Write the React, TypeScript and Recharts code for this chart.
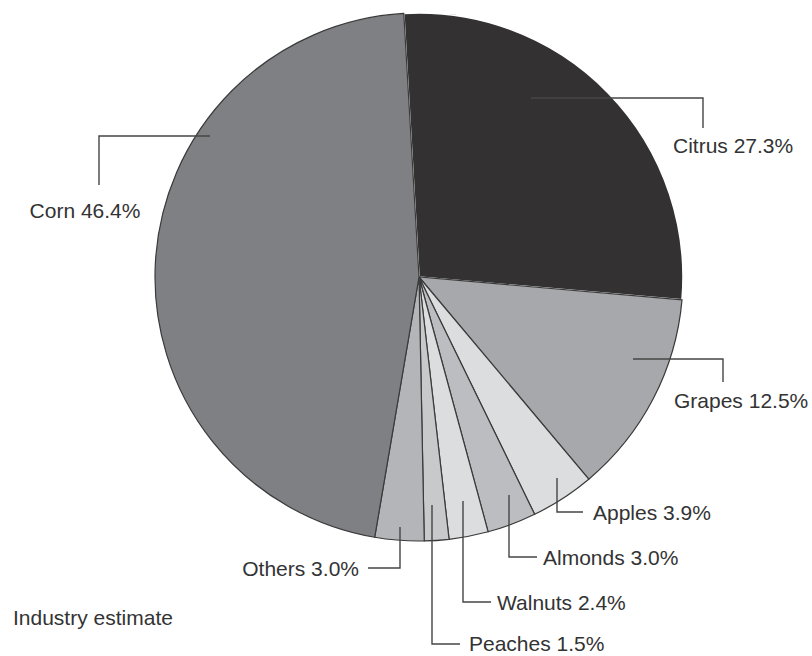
import { Cell, Pie, PieChart } from 'recharts'

const crops = ['Citrus', 'Grapes', 'Apples', 'Almonds', 'Walnuts', 'Peaches', 'Others', 'Corn']
const shares = [27.3, 12.5, 3.9, 3.0, 2.4, 1.5, 3.0, 46.4]
const fills = ['#333132', '#a7a8ab', '#dcdddf', '#bcbdc0', '#dcdddf', '#c8c9cb', '#b4b5b8', '#7f8083']

const slices = crops.map((name, i) => ({ name, value: shares[i] }))

// leader elbows, as offsets from the pie centre
const leaders: { pts: [number, number][]; tx: number; ty: number; anchor: 'start' | 'middle' | 'end' }[] = [
  { pts: [[112, -179], [284, -179], [284, -149]], tx: 254, ty: -132, anchor: 'start' },
  { pts: [[214, 82], [304, 82], [304, 105]], tx: 255, ty: 123, anchor: 'start' },
  { pts: [[138, 201], [138, 235], [164, 235]], tx: 174, ty: 235, anchor: 'start' },
  { pts: [[90, 218], [90, 280], [118, 280]], tx: 124, ty: 280, anchor: 'start' },
  { pts: [[44, 224], [44, 325], [72, 325]], tx: 78, ty: 325, anchor: 'start' },
  { pts: [[13, 228], [13, 367], [41, 367]], tx: 50, ty: 366, anchor: 'start' },
  { pts: [[-19, 250], [-19, 291], [-51, 291]], tx: -60, ty: 291, anchor: 'end' },
  { pts: [[-209, -141], [-320, -141], [-320, -92]], tx: -334, ty: -67, anchor: 'middle' },
]

const font = '"Liberation Sans", Arial, sans-serif'

function renderLabel(props: any) {
  const { cx, cy, index, name, value } = props
  const l = leaders[index]
  const d = l.pts.map(([x, y], i) => `${i ? 'L' : 'M'}${cx + x},${cy + y}`).join(' ')
  return (
    <g key={`lbl-${index}`}>
      <path d={d} fill="none" stroke="#454545" strokeWidth={1.4} />
      <text
        x={cx + l.tx}
        y={cy + l.ty}
        textAnchor={l.anchor}
        dominantBaseline="central"
        fill="#333"
        fontSize={21}
        fontFamily={font}
      >
        {`${name} ${value.toFixed(1)}%`}
      </text>
    </g>
  )
}

export default function App() {
  return (
    <div style={{ position: 'absolute', left: 0, top: 0, width: 812, height: 656, background: '#fff' }}>
      <PieChart width={812} height={656} margin={{ top: 0, right: 0, bottom: 0, left: 0 }}>
        <Pie
          data={slices}
          dataKey="value"
          nameKey="name"
          cx={419}
          cy={277}
          outerRadius={264}
          startAngle={93.3}
          endAngle={-266.7}
          label={renderLabel}
          labelLine={false}
          isAnimationActive={false}
        >
          {slices.map((s, i) => (
            <Cell
              key={s.name}
              fill={fills[i]}
              stroke={i === 0 ? '#ffffff' : '#3a3a3a'}
              strokeWidth={i === 0 ? 1.6 : 1.2}
            />
          ))}
        </Pie>
        <text x={13} y={617} dominantBaseline="central" fill="#333" fontSize={21} fontFamily={font}>
          Industry estimate
        </text>
      </PieChart>
    </div>
  )
}
